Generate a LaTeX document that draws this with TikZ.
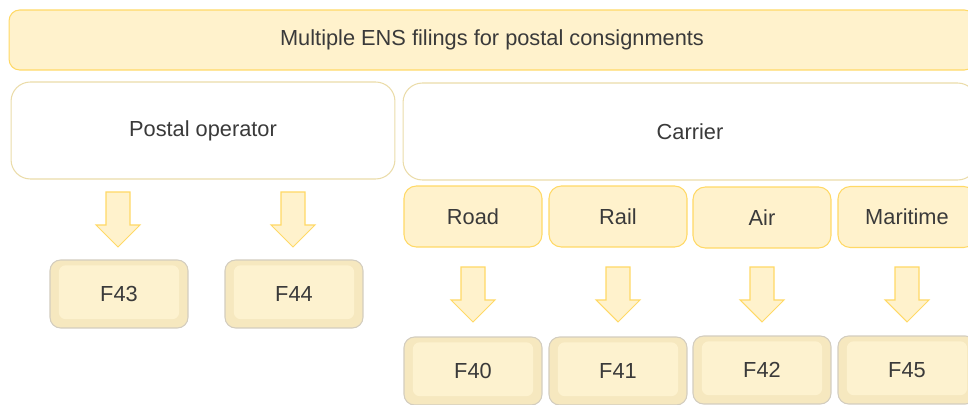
\documentclass[tikz,border=0pt]{standalone}
\usepackage{fontspec}
\setmainfont{Liberation Sans}

\definecolor{paleyellow}{HTML}{FFF2CC}
\definecolor{goldline}{HTML}{FFD966}
\definecolor{softline}{HTML}{EBDCA9}
\definecolor{bevelface}{HTML}{FDF2CF}
\definecolor{beveledge}{HTML}{F6E8BF}
\definecolor{greyline}{HTML}{D3CDBE}
\definecolor{textgrey}{HTML}{3A3A3A}

\tikzset{
    blockarrow/.pic={
        \draw[fill=paleyellow,draw=goldline,line width=0.6pt]
            (-12,0) -- (12,0) -- (12,33) -- (22,33) -- (0,55) -- (-22,33) -- (-12,33) -- cycle;
    },
    formbox/.style={draw=greyline,fill=beveledge,rounded corners=6pt,
        minimum width=2.76cm,minimum height=1.36cm,
        path picture={\fill[bevelface,rounded corners=4pt]
            ([shift={(5pt,5pt)}]path picture bounding box.south west) rectangle
            ([shift={(-5pt,-3pt)}]path picture bounding box.north east);}}
}

\begin{document}
\begin{tikzpicture}[x=0.02cm,y=-0.02cm,font=\fontsize{12.4}{14}\selectfont,text=textgrey]
        \useasboundingbox (0,0) rectangle (968,405);
        \begin{scope}[every node/.style={draw=goldline,fill=paleyellow,line width=0.6pt,inner sep=0pt}]
            \node[rounded corners=6pt,minimum width=19.32cm,minimum height=1.2cm] (banner) at (492,40) {Multiple ENS filings for postal consignments};

            \node[draw=softline,fill=white,rounded corners=11pt,minimum width=7.68cm,minimum height=1.94cm] (postal) at (203,130.5) {Postal operator};
            \node[draw=softline,fill=white,rounded corners=11pt,minimum width=11.48cm,minimum height=1.94cm] (carrier) at (690,131.5) {Carrier};

            \node[rounded corners=7pt,minimum width=2.76cm,minimum height=1.22cm] (road) at (473,216.5) {Road};
            \node[rounded corners=7pt,minimum width=2.76cm,minimum height=1.22cm] (rail) at (618,216.5) {Rail};
            \node[rounded corners=7pt,minimum width=2.76cm,minimum height=1.22cm] (air) at (762,217.5) {Air};
            \node[rounded corners=7pt,minimum width=2.76cm,minimum height=1.22cm] (sea) at (907,217) {Maritime};

            \node[formbox] (f43) at (119,294) {F43};
            \node[formbox] (f44) at (294,294) {F44};
            \node[formbox] (f40) at (473,371) {F40};
            \node[formbox] (f41) at (618,371) {F41};
            \node[formbox] (f42) at (762,370) {F42};
            \node[formbox] (f45) at (907,370) {F45};
        \end{scope}
        % down arrows
        \pic at (118,192) {blockarrow};
        \pic at (293,192) {blockarrow};
        \pic at (473,267) {blockarrow};
        \pic at (618,267) {blockarrow};
        \pic at (762,267) {blockarrow};
        \pic at (907,267) {blockarrow};
    \end{tikzpicture}
\end{document}
